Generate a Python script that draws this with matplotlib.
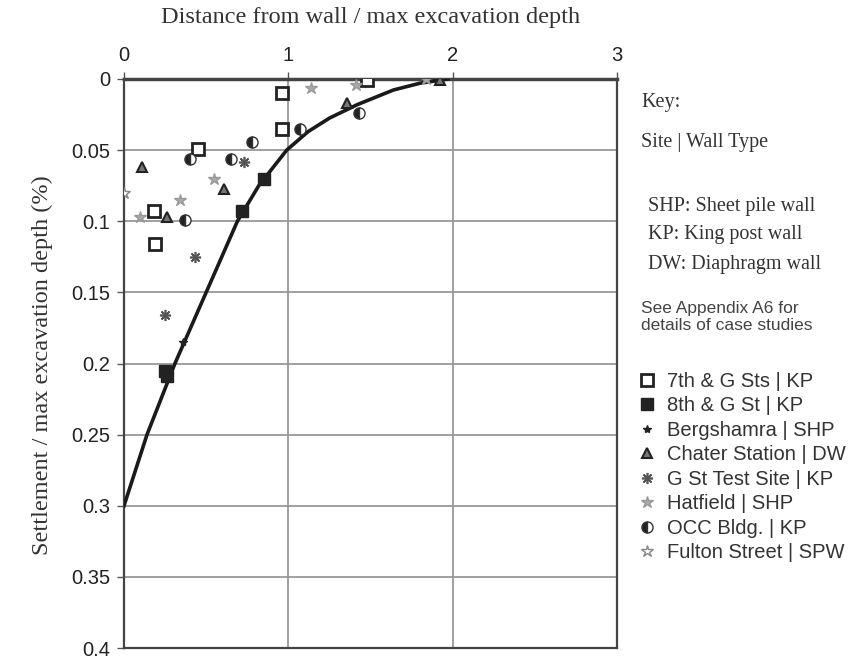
import matplotlib.pyplot as plt

# envelope curve
curve_x = [0.0, 0.14, 0.31, 0.50, 0.69, 0.82, 0.99, 1.12, 1.25, 1.42, 1.64, 1.80, 1.97]
curve_y = [0.300, 0.250, 0.200, 0.150, 0.100, 0.075, 0.050, 0.037, 0.0275, 0.018, 0.0077, 0.003, 0.0]

# case study points
sq7_x = [0.45, 0.18, 0.19, 0.96, 0.96, 1.48]
sq7_y = [0.049, 0.093, 0.116, 0.035, 0.0096, 0.001]
sq8_x = [0.72, 0.85, 0.25, 0.26]
sq8_y = [0.093, 0.070, 0.205, 0.209]
berg_x = [0.36]
berg_y = [0.185]
chater_x = [0.11, 0.26, 0.61, 1.36, 1.92]
chater_y = [0.062, 0.097, 0.077, 0.017, 0.001]
gst_x = [0.73, 0.43, 0.25]
gst_y = [0.058, 0.125, 0.166]
hat_x = [0.55, 0.34, 0.10, 1.14, 1.41, 1.84]
hat_y = [0.070, 0.085, 0.097, 0.0065, 0.004, 0.0]
occ_x = [0.40, 0.65, 0.37, 0.78, 1.07, 1.43]
occ_y = [0.056, 0.056, 0.099, 0.0445, 0.035, 0.0236]
fulton_x = [0.0]
fulton_y = [0.080]

x_ticks = [0, 1, 2, 3]
y_ticks = [0, 0.05, 0.1, 0.15, 0.2, 0.25, 0.3, 0.35, 0.4]
y_labels = ['0', '0.05', '0.1', '0.15', '0.2', '0.25', '0.3', '0.35', '0.4']

W, H = 861, 662
fig = plt.figure(figsize=(W / 100, H / 100), dpi=100)
ax = fig.add_axes([124 / W, 1 - 648 / H, 493 / W, 569 / H])

sans = 'Liberation Sans'
serif = 'Liberation Serif'

ax.set_xlim(0, 3)
ax.set_ylim(0.4, 0)
ax.xaxis.tick_top()
ax.set_xticks(x_ticks)
ax.set_yticks(y_ticks)
ax.set_yticklabels(y_labels)
for lab in ax.get_xticklabels() + ax.get_yticklabels():
    lab.set_family(sans)
    lab.set_fontsize(14.5)
    lab.set_color('#222222')
ax.tick_params(length=5, width=1, color='#555555', pad=5)
ax.grid(True, color='#999999', lw=1.3)
ax.set_axisbelow(True)
for s in ax.spines.values():
    s.set_color('#444444')
    s.set_linewidth(1.6)
ax.spines['top'].set_linewidth(2.5)

ax.plot(curve_x, curve_y, color='#1a1a1a', lw=2.6, zorder=3)

kw = dict(linestyle='none', zorder=4)
ax.plot(sq7_x, sq7_y, marker='s', ms=8, mfc='white', mec='#222222', mew=2, label='7th & G Sts | KP', **kw)
ax.plot(sq8_x, sq8_y, marker='s', ms=9, mfc='#222222', mec='#222222', label='8th & G St | KP', **kw)
ax.plot(berg_x, berg_y, marker='*', ms=6, mfc='#222222', mec='#222222', label='Bergshamra | SHP', **kw)
ax.plot(chater_x, chater_y, marker='^', ms=7, mfc='#777777', mec='#222222', mew=1.5, label='Chater Station | DW', **kw)
ax.plot(gst_x, gst_y, marker=(8, 2, 0), ms=8, mec='#555555', mew=1.2, label='G St Test Site | KP', **kw)
ax.plot(hat_x, hat_y, marker='*', ms=9, mfc='#aaaaaa', mec='#999999', label='Hatfield | SHP', **kw)
ax.plot(occ_x, occ_y, marker='o', ms=8, fillstyle='left', mfc='#222222', mfcalt='white', mec='#333333', mew=1, label='OCC Bldg. | KP', **kw)
ax.plot(fulton_x, fulton_y, marker='*', ms=9, mfc='white', mec='#888888', mew=1, label='Fulton Street | SPW', **kw)

fig.text(371 / W, 1 - 18 / H, 'Distance from wall / max excavation depth', family=serif,
         fontsize=17.5, color='#333333', ha='center', va='center')
fig.text(42 / W, 1 - 365 / H, 'Settlement / max excavation depth (%)', family=serif,
         fontsize=17.5, color='#333333', ha='center', va='center', rotation=90)

fig.text(641 / W, 1 - 102 / H, 'Key:', family=serif, fontsize=14.5, color='#333333', va='center')
fig.text(641 / W, 1 - 143 / H, 'Site | Wall Type', family=serif, fontsize=14.5, color='#333333', va='center')
for i, t in enumerate(['SHP: Sheet pile wall', 'KP: King post wall', 'DW: Diaphragm wall']):
    fig.text(648 / W, 1 - (206 + 29 * i) / H, t, family=serif, fontsize=14.5, color='#333333', va='center')
fig.text(641 / W, 1 - 309 / H, 'See Appendix A6 for', family=sans, fontsize=12.5, color='#444444', va='center')
fig.text(641 / W, 1 - 326 / H, 'details of case studies', family=sans, fontsize=12.5, color='#444444', va='center')

leg = ax.legend(loc='upper left', bbox_to_anchor=(638 / W, 1 - 372 / H), bbox_transform=fig.transFigure,
                frameon=False, prop={'family': sans, 'size': 14.5}, handlelength=0.9, handletextpad=0.55,
                labelspacing=0.27, borderaxespad=0, borderpad=0)
for t in leg.get_texts():
    t.set_color('#333333')

fig.savefig('out.png', dpi=100)
